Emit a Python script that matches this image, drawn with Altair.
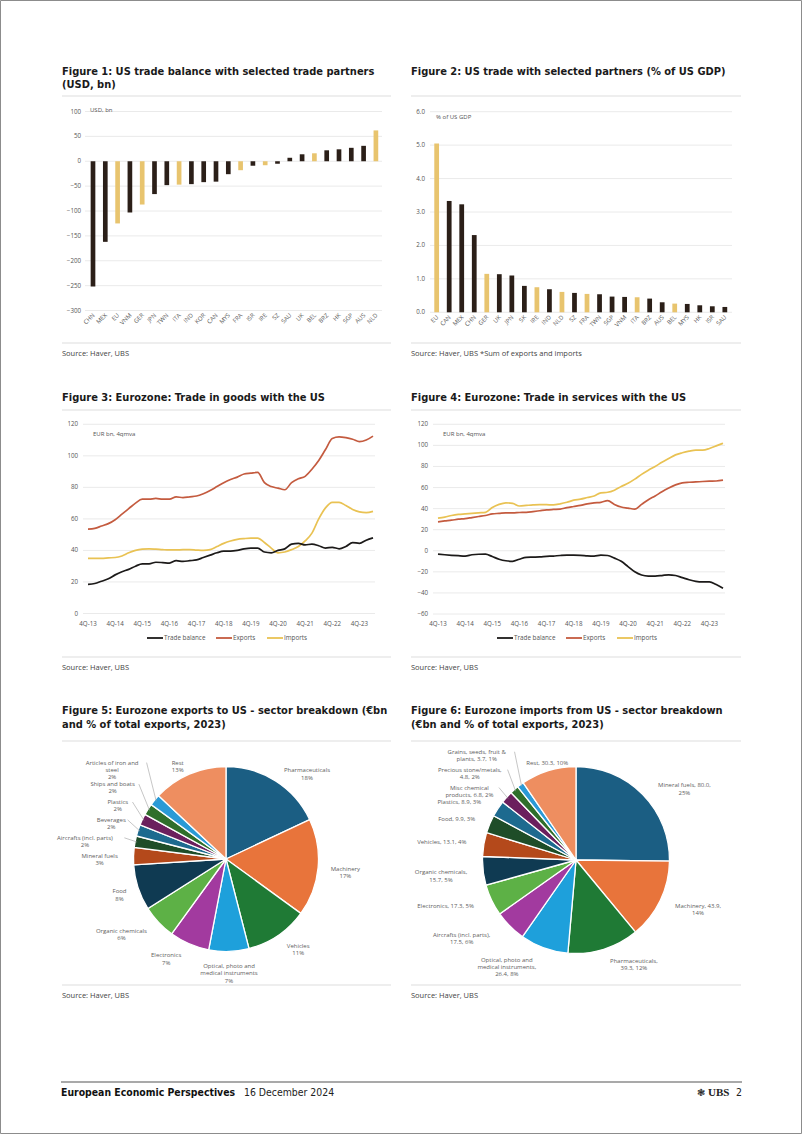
import math
import altair as alt
import pandas as pd

# ------------------------------------------------------------------ data
# Figure 1: US trade balance with selected partners (USD bn)
F1_PARTNERS = ["CHN", "MEX", "EU", "VNM", "GER", "JPN", "TWN", "ITA", "IND", "KOR", "CAN", "MYS",
               "FRA", "ISR", "IRE", "SZ", "SAU", "UK", "BEL", "BRZ", "HK", "SGP", "AUS", "NLD"]
F1_BALANCE = [-252, -162, -125, -103, -87, -66, -48, -47, -46, -42, -41, -26,
              -18, -9, -8, -5, 7, 14, 16, 22, 24, 27, 31, 62]
F1_YTICKS = [100, 50, 0, -50, -100, -150, -200, -250, -300]

# Figure 2: US trade with selected partners (% of US GDP)
F2_PARTNERS = ["EU", "CAN", "MEX", "CHN", "GER", "UK", "JPN", "SK", "IRE", "IND", "NLD", "SZ",
               "FRA", "TWN", "SGP", "VNM", "ITA", "BRZ", "AUS", "BEL", "MYS", "HK", "ISR", "SAU"]
F2_SHARE = [5.05, 3.33, 3.23, 2.31, 1.15, 1.14, 1.10, 0.79, 0.75, 0.69, 0.61, 0.58,
            0.55, 0.54, 0.47, 0.46, 0.45, 0.41, 0.30, 0.26, 0.25, 0.21, 0.18, 0.16]
F2_YTICKS = [6, 5, 4, 3, 2, 1, 0]

EU_GROUP = ["EU", "GER", "ITA", "FRA", "IRE", "BEL", "NLD"]

# Figures 3 and 4: quarterly, 4Q-13 .. 2Q-24, EUR bn 4qmva
SERIES = ["Trade balance", "Exports", "Imports"]
G_TB = [18.5, 19, 20.5, 22, 24.5, 26.5, 28, 30, 31.5, 31.5, 32.5, 32.3, 32, 33.5, 33, 33.5, 34,
        35.5, 37, 38.5, 39.5, 39.5, 40, 41, 41.5, 41.5, 39, 38.5, 40, 41, 44, 44.5, 43.5, 44, 43,
        41.5, 42, 41, 42.5, 45, 44.5, 46.5, 48]
G_EXP = [53.5, 54, 55.5, 57, 59.5, 63, 66.5, 70, 72.5, 72.5, 73, 72.5, 72.5, 74, 73.5, 74, 74.5,
         76, 78, 80.5, 83, 85, 86.5, 88.5, 89, 89.5, 83, 80.5, 79.5, 78.5, 83, 85.5, 87, 91.5, 97,
         104, 111, 112, 111.5, 110.5, 109, 110, 112.5]
G_IMP = [35, 35, 35, 35.3, 35.5, 36.5, 38.5, 40, 40.8, 41, 40.8, 40.5, 40.3, 40.3, 40.5, 40.5,
         40.2, 40, 40.5, 42.5, 44.5, 46, 47, 47.5, 47.8, 47.8, 45, 41.5, 38.5, 39, 40.5, 42.5, 46,
         51, 60, 67, 70.5, 70.5, 68.5, 66, 64.5, 64, 64.8]
S_TB = [-3.2, -3.8, -4.3, -4.7, -5, -3.8, -3.3, -3.2, -5.5, -8, -9.5, -10, -8, -6.2, -6, -5.8,
        -5.3, -5, -4.5, -4.2, -4.2, -4.3, -4.8, -5, -4.2, -4.5, -7, -10, -15, -20, -23, -24, -24,
        -23.5, -22.8, -23.5, -25.5, -27.5, -29, -29.5, -29.5, -32, -35.5]
S_EXP = [27.5, 28.3, 29, 30, 30.5, 31.5, 32.5, 33.5, 35, 35.5, 36, 36, 36.3, 36.5, 37.2, 38, 38.8,
         39.2, 39.5, 41, 42, 43, 44.5, 45.5, 46, 47.5, 44, 41.5, 40.5, 39.5, 44, 48.5, 52, 56,
         59.5, 62.5, 64.5, 65, 65.3, 65.7, 66, 66.2, 67]
S_IMP = [31, 32, 33.5, 34.5, 35, 35.5, 36, 36.5, 41, 44, 45.5, 45, 42.5, 43, 43.5, 43.8, 43.7,
         43.5, 44.5, 46, 48, 49, 50.5, 52, 55, 55.5, 57.5, 61, 64, 68, 72.5, 76.5, 80, 84, 87.5,
         91, 93, 94.5, 95.5, 95.5, 97, 99.5, 102]
G_YTICKS = [0, 20, 40, 60, 80, 100, 120]
S_YTICKS = [-60, -40, -20, 0, 20, 40, 60, 80, 100, 120]

# Figure 5: Eurozone exports to US by sector (% of total, 2023)
P5_SECTORS = ["Pharmaceuticals", "Machinery", "Vehicles", "Optical, photo and medical instruments",
              "Electronics", "Organic chemicals", "Food", "Mineral fuels", "Aircrafts (incl. parts)",
              "Beverages", "Plastics", "Ships and boats", "Articles of iron and steel", "Rest"]
P5_SHARE = [18, 17, 11, 7, 7, 6, 8, 3, 2, 2, 2, 2, 2, 13]
P5_LABEL = ["Pharmaceuticals\n{p}%", "Machinery\n{p}%", "Vehicles\n{p}%",
            "Optical, photo and\nmedical instruments\n{p}%", "Electronics\n{p}%",
            "Organic chemicals\n{p}%", "Food\n{p}%", "Mineral fuels\n{p}%",
            "Aircrafts (incl. parts)\n{p}%", "Beverages\n{p}%", "Plastics\n{p}%",
            "Ships and boats\n{p}%", "Articles of iron and\nsteel\n{p}%", "Rest\n{p}%"]

# Figure 6: Eurozone imports from US by sector (EUR bn, 2023)
P6_SECTORS = ["Mineral fuels", "Machinery", "Pharmaceuticals", "Optical, photo and medical instruments",
              "Aircrafts (incl. parts)", "Electronics", "Organic chemicals", "Vehicles", "Food",
              "Plastics", "Misc chemical products", "Precious stone/metals",
              "Grains, seeds, fruit & plants", "Rest"]
P6_VALUE = [80.0, 43.9, 39.3, 26.4, 17.5, 17.3, 15.7, 13.1, 9.9, 8.9, 6.8, 4.8, 3.7, 30.3]
P6_LABEL = ["Mineral fuels, {v},\n{p}%", "Machinery, {v},\n{p}%", "Pharmaceuticals,\n{v}, {p}%",
            "Optical, photo and\nmedical instruments,\n{v}, {p}%", "Aircrafts (incl. parts),\n{v}, {p}%",
            "Electronics, {v}, {p}%", "Organic chemicals,\n{v}, {p}%", "Vehicles, {v}, {p}%",
            "Food, {v}, {p}%", "Plastics, {v}, {p}%", "Misc chemical\nproducts, {v}, {p}%",
            "Precious stone/metals,\n{v}, {p}%", "Grains, seeds, fruit &\nplants, {v}, {p}%",
            "Rest, {v}, {p}%"]

PIE_PALETTE = ["#1b5e83", "#e8743b", "#1f7a35", "#1ea0db", "#a23a9f", "#5db146", "#0f3a52",
               "#b4491b", "#1e4d28", "#1d6a8f", "#6b1f5d", "#2f6f2b", "#2a9ad6", "#ee8e60"]

# ------------------------------------------------------------------ styles
BODY = "Open Sans"
HEAD = "DejaVu Sans Condensed"
HEAD_SIZE = 11
DARK = "#2b1f18"
GOLD = "#e8c46e"
LINE_COLORS = {"Trade balance": "#1c1a19", "Exports": "#c45b3f", "Imports": "#e9c253"}
GRID = "#e4e4e4"
TICK = "#555555"
SEP = "#dedede"

layers = []


def label(text, x, y, size=6.0, color=TICK, align="left", font=BODY, weight="normal"):
    return alt.Chart(pd.DataFrame({"t": [text]})).mark_text(
        align=align, baseline="middle", fontSize=size, font=font, fontWeight=weight, color=color
    ).encode(x=alt.value(x), y=alt.value(y), text="t:N")


def hrule(x1, x2, y, color=SEP, w=1.2):
    return alt.Chart(pd.DataFrame({"k": [0]})).mark_rule(color=color, strokeWidth=w).encode(
        x=alt.value(x1), x2=alt.value(x2), y=alt.value(y))


# ------------------------------------------------------------------ bar figures
def bar_figure(partners, values, yticks, ydom, yrange, xrange, tick_x, grid_x, fmt, label_y):
    df = pd.DataFrame({"partner": partners, "value": values})
    df["group"] = ["EU" if p in EU_GROUP else "Other" for p in partners]
    xs = alt.Scale(domain=partners, range=xrange, paddingInner=0.62, paddingOuter=0.31)
    ys = alt.Scale(domain=ydom, range=yrange, nice=False, zero=False)
    tdf = pd.DataFrame({"tick": yticks})
    out = []
    out.append(alt.Chart(tdf).mark_rule(color=GRID, strokeWidth=0.8).encode(
        y=alt.Y("tick:Q", scale=ys, axis=None), x=alt.value(grid_x[0]), x2=alt.value(grid_x[1])))
    out.append(alt.Chart(tdf).mark_text(align="right", baseline="middle", fontSize=6.2, font=BODY,
                                        color=TICK).encode(
        y=alt.Y("tick:Q", scale=ys, axis=None), x=alt.value(tick_x),
        text=alt.Text("tick:Q", format=fmt)))
    out.append(alt.Chart(df).mark_bar().encode(
        x=alt.X("partner:N", scale=xs, axis=None),
        y=alt.Y("value:Q", scale=ys, axis=None), y2=alt.datum(0),
        color=alt.Color("group:N", scale=alt.Scale(domain=["EU", "Other"], range=[GOLD, DARK]),
                        legend=None)))
    out.append(alt.Chart(df).mark_text(angle=315, align="right", baseline="middle", fontSize=6,
                                       font=BODY, color=TICK, dx=1).encode(
        x=alt.X("partner:N", scale=xs, axis=None), y=alt.value(label_y), text="partner:N"))
    return out


layers += bar_figure(F1_PARTNERS, F1_BALANCE, F1_YTICKS, [-300, 100], [310.5, 111.5],
                     [86.85, 382.05], 81, (85, 382), "d", 315)
layers += bar_figure(F2_PARTNERS, F2_SHARE, F2_YTICKS, [0, 6], [312.3, 111.7],
                     [430.4, 731.1], 425, (430, 732), ".1f", 317)
layers.append(label("USD, bn", 90, 110))
layers.append(label("% of US GDP", 436, 117))

# ------------------------------------------------------------------ line figures
QUARTERS = []
_q, _y = 4, 13
for _ in range(len(G_TB)):
    QUARTERS.append(f"{_q}Q-{_y}")
    _q += 1
    if _q > 4:
        _q, _y = 1, _y + 1


def line_figure(data, yticks, ydom, yrange, xrange, tick_x, grid_x, xlab_y, x_off):
    n = len(QUARTERS)
    xs = alt.Scale(domain=[0, n - 1], range=xrange, nice=False, zero=False)
    ys = alt.Scale(domain=ydom, range=yrange, nice=False, zero=False)
    tdf = pd.DataFrame({"tick": yticks})
    out = []
    out.append(alt.Chart(tdf).mark_rule(color=GRID, strokeWidth=0.8).encode(
        y=alt.Y("tick:Q", scale=ys, axis=None), x=alt.value(grid_x[0]), x2=alt.value(grid_x[1])))
    out.append(alt.Chart(tdf).mark_text(align="right", baseline="middle", fontSize=6.2, font=BODY,
                                        color=TICK).encode(
        y=alt.Y("tick:Q", scale=ys, axis=None), x=alt.value(tick_x), text=alt.Text("tick:Q", format="d")))
    for s in ["Imports", "Exports", "Trade balance"]:
        df = pd.DataFrame({"q": list(range(n)), "value": data[s]})
        out.append(alt.Chart(df).mark_line(color=LINE_COLORS[s], strokeWidth=1.7,
                                           interpolate="monotone").encode(
            x=alt.X("q:Q", scale=xs, axis=None), y=alt.Y("value:Q", scale=ys, axis=None)))
    qdf = pd.DataFrame({"q": list(range(0, n, 4)), "lab": QUARTERS[0::4]})
    out.append(alt.Chart(qdf).mark_text(align="center", baseline="middle", fontSize=6.2, font=BODY,
                                        color=TICK).encode(
        x=alt.X("q:Q", scale=xs, axis=None), y=alt.value(xlab_y), text="lab:N"))
    # legend
    leg_x = [147, 216, 267]
    for s, lx in zip(SERIES, leg_x):
        out.append(hrule(lx + x_off, lx + 16 + x_off, 638, LINE_COLORS[s], 1.8))
        out.append(label(s, lx + 17 + x_off, 638, 6.3, TICK))
    out.append(label("EUR bn, 4qmva", 93 + x_off, 434))
    return out


layers += line_figure({"Trade balance": G_TB, "Exports": G_EXP, "Imports": G_IMP}, G_YTICKS,
                      [0, 120], [613.5, 424.3], [88, 373], 78, (83, 375), 624, 0)
layers += line_figure({"Trade balance": S_TB, "Exports": S_EXP, "Imports": S_IMP}, S_YTICKS,
                      [-60, 120], [614, 424.3], [438, 723], 428, (433, 725), 624, 350)


# ------------------------------------------------------------------ pies
def pie_figure(names, values, texts, cx, cy, r, fs=6.0, lh=7.2, gap=3.5):
    total = float(sum(values))
    df = pd.DataFrame({"name": names, "value": values, "idx": list(range(len(names)))})
    out = [alt.Chart(df).mark_arc(radius=r, stroke="white", strokeWidth=1.3).encode(
        theta=alt.Theta("value:Q", stack=True),
        color=alt.Color("name:N", scale=alt.Scale(domain=names, range=PIE_PALETTE), legend=None),
        order=alt.Order("idx:Q"),
        x=alt.value(cx), y=alt.value(cy))]
    # label layout derived from the slice angles
    R = r + 12.5
    items = []
    cum = 0.0
    for v, t in zip(values, texts):
        a = 2 * math.pi * (cum + v / 2) / total
        cum += v
        share = 100 * v / total
        txt = t.format(v=f"{v:.1f}", p=f"{share:.0f}")
        lines = txt.split("\n")
        h = len(lines) * lh
        w = max(len(s) for s in lines) * 0.55 * fs
        sa, ca = math.sin(a), math.cos(a)
        if sa > 0.25:
            ax, ay = cx + R * sa, cy - R * ca
            x0, x1 = ax, ax + w
            side = "left"
        elif sa < -0.32:
            ax, ay = cx + R * sa, cy - R * ca
            x0, x1 = ax - w, ax
            side = "right"
        else:
            ax = cx + (r + 4) * sa
            ay = cy - (r + 4) * ca + (h / 2 if ca < 0 else -h / 2)
            x0, x1 = ax - w / 2, ax + w / 2
            side = "center"
        items.append(dict(a=a, x0=x0, x1=x1, y=ay, y0=ay, h=h, txt=txt, side=side, share=share))
    # simple bottom-up de-overlap (bounded number of passes)
    placed = []
    for it in sorted(items, key=lambda d: -d["y"]):
        for _ in range(30):
            clash = None
            for p in placed:
                if it["x1"] > p["x0"] and it["x0"] < p["x1"]:
                    need = (it["h"] + p["h"]) / 2 + gap
                    if abs(it["y"] - p["y"]) < need - 0.05:
                        clash = p
                        break
            if clash is None:
                break
            it["y"] = clash["y"] - (it["h"] + clash["h"]) / 2 - gap
        placed.append(it)
    ldf = pd.DataFrame({"lx": [(d["x0"] + d["x1"]) / 2 for d in items],
                        "ly": [d["y"] for d in items],
                        "txt": [d["txt"] for d in items]})
    out.append(alt.Chart(ldf).mark_text(align="center", baseline="middle", fontSize=fs, font=BODY,
                                        color="#606060", lineBreak="\n", lineHeight=lh).encode(
        x=alt.X("lx:Q", scale=None), y=alt.Y("ly:Q", scale=None), text="txt:N"))
    lead = []
    for d in items:
        if abs(d["y"] - d["y0"]) > 1.5 or d["share"] < 2.5:
            sx = cx + (r - 2) * math.sin(d["a"])
            sy = cy - (r - 2) * math.cos(d["a"])
            if d["side"] == "right":
                ex = d["x1"] + 1.5
            elif d["side"] == "left":
                ex = d["x0"] - 1.5
            else:
                ex = (d["x0"] + d["x1"]) / 2
            lead.append({"sx": sx, "sy": sy, "ex": ex, "ey": d["y"]})
    if lead:
        out.append(alt.Chart(pd.DataFrame(lead)).mark_rule(color="#a0a0a0", strokeWidth=0.6).encode(
            x=alt.X("sx:Q", scale=None), y=alt.Y("sy:Q", scale=None),
            x2="ex:Q", y2="ey:Q"))
    return out


layers += pie_figure(P5_SECTORS, P5_SHARE, P5_LABEL, 226, 859, 92.5)
layers += pie_figure(P6_SECTORS, P6_VALUE, P6_LABEL, 576, 860, 93.5)

# ------------------------------------------------------------------ page furniture
TITLE_C = "#1a1a1a"


def title(text, x, y):
    return label(text, x, y, HEAD_SIZE, TITLE_C, font=HEAD, weight="bold")


layers += [
    title("Figure 1: US trade balance with selected trade partners", 62, 71.5),
    title("(USD, bn)", 62, 85),
    title("Figure 2: US trade with selected partners (% of US GDP)", 411, 71.5),
    title("Figure 3: Eurozone: Trade in goods with the US", 62, 397.5),
    title("Figure 4: Eurozone: Trade in services with the US", 411, 397.5),
    title("Figure 5: Eurozone exports to US - sector breakdown (\u20acbn", 62, 710.5),
    title("and % of total exports, 2023)", 62, 725),
    title("Figure 6: Eurozone imports from US - sector breakdown", 411, 710.5),
    title("(\u20acbn and % of total exports, 2023)", 411, 725),
    hrule(62, 391, 96), hrule(411, 741, 96),
    hrule(62, 391, 343), hrule(411, 741, 343),
    hrule(62, 391, 410), hrule(411, 741, 410),
    hrule(62, 391, 657), hrule(411, 741, 657),
    hrule(62, 391, 741), hrule(411, 741, 741),
    hrule(62, 391, 985), hrule(411, 741, 985),
    label("Source: Haver, UBS", 62, 354, 7.5, "#444444"),
    label("Source: Haver, UBS *Sum of exports and imports", 411, 354, 7.5, "#444444"),
    label("Source: Haver, UBS", 62, 668, 7.5, "#444444"),
    label("Source: Haver, UBS", 411, 668, 7.5, "#444444"),
    label("Source: Haver, UBS", 62, 996, 7.5, "#444444"),
    label("Source: Haver, UBS", 411, 996, 7.5, "#444444"),
    hrule(61, 742, 1082, "#555555", 1.2),
    label("European Economic Perspectives", 61, 1093, 10.4, "#111111", font=HEAD, weight="bold"),
    label("16 December 2024", 244, 1093, 10.4, "#222222", font=HEAD),
    label("\u2743", 701, 1093, 10, "#222222", align="center", font="DejaVu Sans"),
    label("UBS", 708, 1093, 11, "#222222", font="Liberation Serif", weight="bold"),
    label("2", 742, 1093, 10.4, "#222222", align="right", font=HEAD),
    alt.Chart(pd.DataFrame({"k": [0]})).mark_rect(fill="transparent", stroke="#8c8c8c", strokeWidth=1).encode(
        x=alt.value(0.5), x2=alt.value(801.5), y=alt.value(0.5), y2=alt.value(1133.5)),
]

chart = alt.layer(*layers).resolve_scale(
    x="independent", y="independent", color="independent", theta="independent"
).properties(
    width=802, height=1134, autosize=alt.AutoSizeParams(type="none"), padding=0, background="white"
).configure_view(stroke=None)

chart.save("out.html", embed_options={"renderer": "svg", "actions": False})
